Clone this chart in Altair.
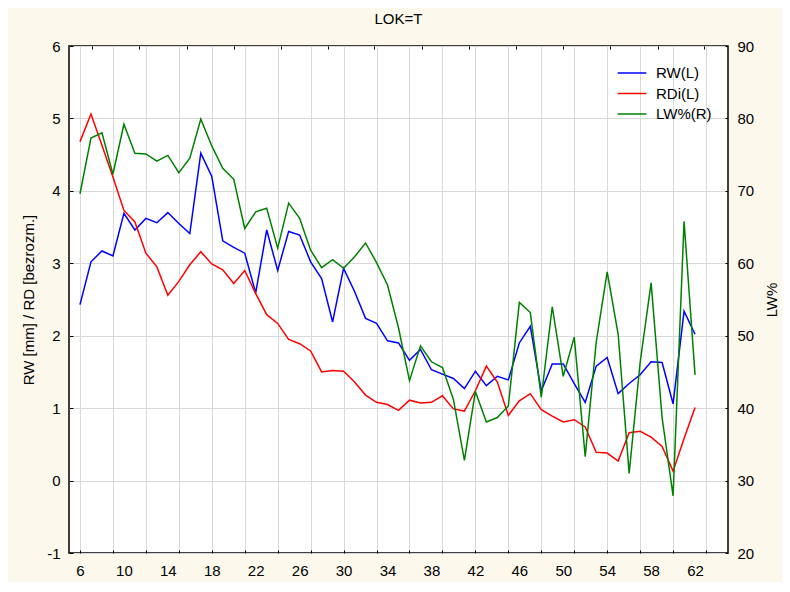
import altair as alt
import pandas as pd

age = list(range(6, 63))
rw = [2.43, 3.02, 3.17, 3.10, 3.69, 3.46, 3.62, 3.56, 3.70, 3.55,
      3.41, 4.52, 4.20, 3.31, 3.22, 3.14, 2.59, 3.46, 2.90, 3.44,
      3.39, 3.02, 2.79, 2.19, 2.93, 2.61, 2.24, 2.17, 1.93, 1.90,
      1.66, 1.81, 1.53, 1.47, 1.41, 1.27, 1.51, 1.31, 1.44, 1.39,
      1.90, 2.13, 1.24, 1.61, 1.61, 1.34, 1.08, 1.58, 1.70, 1.20,
      1.34, 1.46, 1.64, 1.63, 1.06, 2.34, 2.02]
rdi = [4.68, 5.06, 4.63, 4.19, 3.73, 3.57, 3.14, 2.95, 2.56, 2.75,
       2.98, 3.16, 2.99, 2.91, 2.72, 2.90, 2.58, 2.29, 2.17, 1.95,
       1.89, 1.79, 1.50, 1.52, 1.51, 1.36, 1.18, 1.08, 1.05, 0.97,
       1.11, 1.07, 1.08, 1.17, 0.99, 0.96, 1.24, 1.58, 1.36, 0.90,
       1.10, 1.20, 0.98, 0.89, 0.81, 0.84, 0.74, 0.39, 0.38, 0.27,
       0.66, 0.68, 0.60, 0.47, 0.13, 0.58, 1.01]
lw = [69.6, 77.3, 78.0, 72.3, 79.2, 75.2, 75.1, 74.1, 74.9, 72.5,
      74.5, 79.9, 76.2, 73.1, 71.6, 64.8, 67.1, 67.6, 62.1, 68.3,
      66.2, 61.8, 59.4, 60.5, 59.3, 60.9, 62.8, 60.1, 57.0, 51.1,
      43.8, 48.6, 46.4, 45.6, 41.2, 32.8, 42.3, 38.1, 38.7, 40.3,
      54.6, 53.2, 41.5, 54.0, 44.4, 49.8, 33.3, 49.1, 58.8, 50.2,
      31.0, 46.3, 57.3, 38.7, 27.9, 65.8, 44.6]

series_names = ["RW(L)", "RDi(L)", "LW%(R)"]
series_colors = ["#0000ff", "#ff0000", "#008000"]
x_label_values = [6, 10, 14, 18, 22, 26, 30, 34, 38, 42, 46, 50, 54, 58, 62]
x_grid_values = [6, 9, 12, 15, 18, 21, 24, 27, 30, 33, 36, 39, 42, 45, 48, 51, 54, 57, 60, 63]
x_top_ticks = [7.1, 11.4, 15.7, 20.0, 24.3, 28.6, 32.8, 37.1, 41.4, 45.7, 50.0, 54.3, 58.6, 62.8]
left_values = [-1, 0, 1, 2, 3, 4, 5, 6]
right_values = [20, 30, 40, 50, 60, 70, 80, 90]

FONT = "Liberation Sans"
FS = 15

df_left = pd.concat([
    pd.DataFrame({"age": age, "value": rw, "series": series_names[0]}),
    pd.DataFrame({"age": age, "value": rdi, "series": series_names[1]}),
])
df_right = pd.DataFrame({"age": age, "value": lw, "series": series_names[2]})

xscale = alt.Scale(domain=[5, 65], nice=False, zero=False)
color = alt.Color(
    "series:N",
    scale=alt.Scale(domain=series_names, range=series_colors),
    legend=alt.Legend(
        title=None, orient="none", legendX=551, legendY=15,
        symbolType="M-1.3,0H1.3", symbolSize=484, symbolStrokeWidth=1.5,
        labelFont=FONT, labelFontSize=FS, labelColor="black",
        labelOffset=12, rowPadding=0.5, padding=0,
    ),
)

left = alt.Chart(df_left).mark_line(strokeWidth=1.5).encode(
    x=alt.X("age:Q", scale=xscale, axis=alt.Axis(
        values=x_label_values, grid=False, ticks=False, domain=False,
        labelFont=FONT, labelFontSize=FS, labelColor="black", labelPadding=10,
        labelFlush=False, title=None, orient="bottom")),
    y=alt.Y("value:Q", scale=alt.Scale(domain=[-1, 6], nice=False, zero=False), axis=alt.Axis(
        values=left_values, grid=True, gridColor="#d9d9d9", gridWidth=1,
        domain=False, tickColor="black", tickSize=4, offset=-4,
        labelExpr="'' + datum.value",
        labelFont=FONT, labelFontSize=FS, labelColor="black", labelPadding=9,
        title="RW [mm] / RD [bezrozm.]", titleFont=FONT, titleFontSize=FS,
        titleFontWeight="normal", titleColor="black", titlePadding=10)),
    color=color,
    detail="series:N",
)

right = alt.Chart(df_right).mark_line(strokeWidth=1.5).encode(
    x=alt.X("age:Q", scale=xscale, axis=alt.Axis(
        values=x_grid_values, grid=True, gridColor="#d9d9d9", gridWidth=1,
        labels=False, domain=False, tickColor="black", tickSize=3, offset=-3,
        title=None, orient="bottom")),
    y=alt.Y("value:Q", scale=alt.Scale(domain=[20, 90], nice=False, zero=False), axis=alt.Axis(
        values=right_values, grid=False, orient="right",
        domain=False, tickColor="black", tickSize=3, offset=-3,
        labelFont=FONT, labelFontSize=FS, labelColor="black", labelPadding=9,
        title="LW%", titleFont=FONT, titleFontSize=FS, titleAngle=270,
        titleFontWeight="normal", titleColor="black", titlePadding=26)),
    color=color,
)

top = alt.Chart(df_right).mark_line(opacity=0).encode(
    x=alt.X("age:Q", scale=xscale, axis=alt.Axis(
        values=x_top_ticks, grid=False, labels=False, domain=False,
        tickColor="black", tickSize=3, offset=-3, title=None, orient="top")),
    y=alt.Y("value:Q", scale=alt.Scale(domain=[20, 90], nice=False, zero=False), axis=None),
)

chart = alt.layer(left, right, top).resolve_scale(
    y="independent"
).resolve_axis(
    x="independent", y="independent"
).properties(
    width=659, height=507,
    title=alt.TitleParams("LOK=T", font=FONT, fontSize=FS, fontWeight="normal",
                          color="black", anchor="middle", offset=12),
    autosize=alt.AutoSizeParams(type="none"),
    padding={"left": 61, "top": 38, "right": 54, "bottom": 29},
    background="#fdf8ec",
).configure_view(
    stroke="black", strokeWidth=1.5, fill="white"
)

chart.save("out.html", embed_options={"renderer": "svg", "actions": False})
